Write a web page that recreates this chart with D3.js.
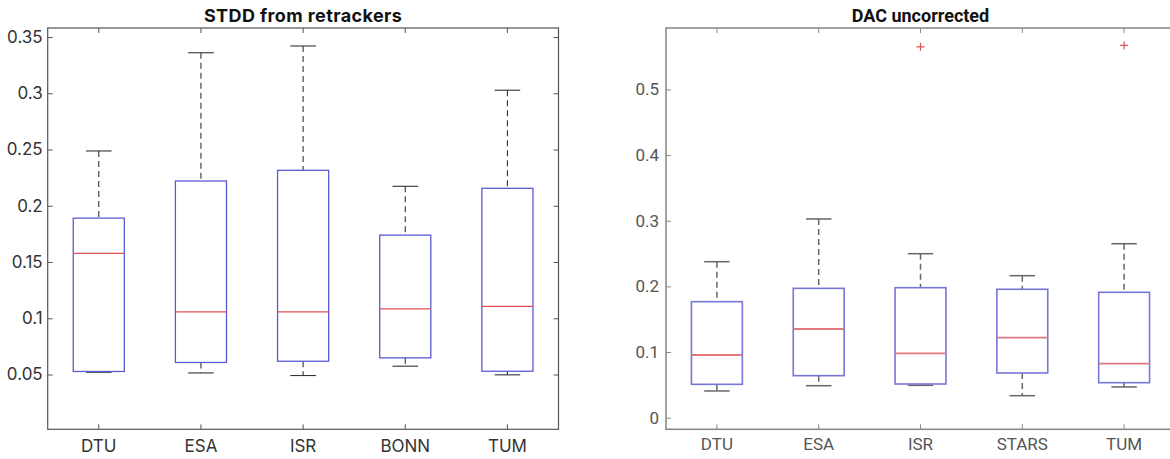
<!DOCTYPE html>
<html>
<head>
<meta charset="utf-8">
<script src="https://cdn.jsdelivr.net/npm/d3@7"></script>
<style>
  body { margin: 0; background: #fff; }
  svg { display: block; }
</style>
</head>
<body>
<svg id="chart" width="1170" height="459"></svg>
<script>
// left panel: STDD from retrackers
var leftCats = ["DTU", "ESA", "ISR", "BONN", "TUM"];
var leftLow = [0.052, 0.0514, 0.0491, 0.0574, 0.0497];
var leftQ1 = [0.0527, 0.0607, 0.0618, 0.0648, 0.0529];
var leftMed = [0.1577, 0.1057, 0.1057, 0.1084, 0.1105];
var leftQ3 = [0.189, 0.222, 0.2315, 0.1739, 0.2155];
var leftHigh = [0.2487, 0.336, 0.342, 0.2173, 0.3027];
var leftTicks = [0.05, 0.1, 0.15, 0.2, 0.25, 0.3, 0.35];

// right panel: DAC uncorrected
var rightCats = ["DTU", "ESA", "ISR", "STARS", "TUM"];
var rightLow = [0.0407, 0.0487, 0.0493, 0.0335, 0.0468];
var rightQ1 = [0.0508, 0.064, 0.0513, 0.0681, 0.0533];
var rightMed = [0.0955, 0.1351, 0.098, 0.1219, 0.0823];
var rightQ3 = [0.1767, 0.197, 0.198, 0.1956, 0.191];
var rightHigh = [0.2376, 0.3027, 0.2498, 0.2163, 0.265];
var rightOutliers = [[], [], [0.565], [], [0.567]];
var rightTicks = [0, 0.1, 0.2, 0.3, 0.4, 0.5];

var svg = d3.select("#chart");

function panel(opt) {
  var g = svg.append("g");
  var x = d3.scaleBand().domain(opt.cats).range([opt.x0, opt.x1]).padding(0);
  var y = d3.scaleLinear().domain(opt.yDomain).range([opt.y1, opt.y0]);
  var bw = x.bandwidth();
  var cx = function(c) { return x(c) + bw / 2; };

  // frame
  g.append("rect")
    .attr("x", opt.x0).attr("y", opt.y0)
    .attr("width", opt.x1 - opt.x0).attr("height", opt.y1 - opt.y0)
    .attr("fill", "none").attr("stroke", opt.axisColor).attr("stroke-width", opt.frameW);

  // axes with inward ticks
  var yAxis = g.append("g")
    .attr("transform", "translate(" + opt.x0 + ",0)")
    .call(d3.axisLeft(y).tickValues(opt.ticks).tickSize(-5).tickPadding(opt.yPad)
      .tickFormat(function(d) { return String(+d.toFixed(2)); }));
  var yAxisR = g.append("g")
    .attr("transform", "translate(" + opt.x1 + ",0)")
    .call(d3.axisRight(y).tickValues(opt.ticks).tickSize(-5).tickFormat(""));
  var xAxis = g.append("g")
    .attr("transform", "translate(0," + opt.y1 + ")")
    .call(d3.axisBottom(x).tickSize(-5).tickPadding(opt.xPad));
  var xAxisT = g.append("g")
    .attr("transform", "translate(0," + opt.y0 + ")")
    .call(d3.axisTop(x).tickSize(-5).tickFormat(""));
  [yAxis, yAxisR, xAxis, xAxisT].forEach(function(a) {
    a.select(".domain").remove();
    a.selectAll("line").attr("stroke", opt.axisColor).attr("stroke-width", 1);
    a.selectAll("text")
      .attr("font-family", opt.font).attr("font-size", opt.fontSize)
      .attr("fill", opt.textColor);
  });

  var idx = d3.range(opt.cats.length);

  // whiskers
  g.selectAll(".wu").data(idx).enter().append("line")
    .attr("x1", function(i) { return cx(opt.cats[i]); })
    .attr("x2", function(i) { return cx(opt.cats[i]); })
    .attr("y1", function(i) { return y(opt.high[i]); })
    .attr("y2", function(i) { return y(opt.q3[i]); })
    .attr("stroke", opt.whiskColor).attr("stroke-width", opt.whiskW)
    .attr("stroke-dasharray", opt.dash);
  g.selectAll(".wl").data(idx).enter().append("line")
    .attr("x1", function(i) { return cx(opt.cats[i]); })
    .attr("x2", function(i) { return cx(opt.cats[i]); })
    .attr("y1", function(i) { return y(opt.q1[i]); })
    .attr("y2", function(i) { return y(opt.low[i]); })
    .attr("stroke", opt.whiskColor).attr("stroke-width", opt.whiskW)
    .attr("stroke-dasharray", opt.dash);

  // caps
  [opt.high, opt.low].forEach(function(arr) {
    g.selectAll(null).data(idx).enter().append("line")
      .attr("x1", function(i) { return cx(opt.cats[i]) - bw * 0.125; })
      .attr("x2", function(i) { return cx(opt.cats[i]) + bw * 0.125; })
      .attr("y1", function(i) { return y(arr[i]); })
      .attr("y2", function(i) { return y(arr[i]); })
      .attr("stroke", opt.whiskColor).attr("stroke-width", opt.whiskW);
  });

  // boxes
  g.selectAll(".box").data(idx).enter().append("rect")
    .attr("x", function(i) { return cx(opt.cats[i]) - bw * 0.25; })
    .attr("width", bw * 0.5)
    .attr("y", function(i) { return y(opt.q3[i]); })
    .attr("height", function(i) { return y(opt.q1[i]) - y(opt.q3[i]); })
    .attr("fill", "none").attr("stroke", opt.boxColor).attr("stroke-width", opt.boxW);

  // medians
  g.selectAll(".med").data(idx).enter().append("line")
    .attr("x1", function(i) { return cx(opt.cats[i]) - bw * 0.25; })
    .attr("x2", function(i) { return cx(opt.cats[i]) + bw * 0.25; })
    .attr("y1", function(i) { return y(opt.med[i]); })
    .attr("y2", function(i) { return y(opt.med[i]); })
    .attr("stroke", opt.medColor).attr("stroke-width", opt.medW);

  // outliers
  if (opt.outliers) {
    var pts = [];
    opt.outliers.forEach(function(list, i) {
      list.forEach(function(v) { pts.push([opt.cats[i], v]); });
    });
    g.selectAll(".out").data(pts).enter().append("path")
      .attr("d", function(p) {
        var px = cx(p[0]), py = y(p[1]);
        return "M" + (px - 4) + "," + py + "H" + (px + 4) + "M" + px + "," + (py - 4) + "V" + (py + 4);
      })
      .attr("stroke", "#d9534f").attr("stroke-width", 1.2).attr("fill", "none");
  }

  // title
  g.append("text")
    .attr("x", (opt.x0 + opt.x1) / 2).attr("y", opt.titleY)
    .attr("text-anchor", "middle")
    .attr("font-family", opt.titleFont).attr("font-weight", "bold")
    .attr("font-size", opt.titleSize).attr("fill", "#111")
    .attr("letter-spacing", opt.titleSpacing || 0)
    .text(opt.title);
}

panel({
  cats: leftCats, low: leftLow, q1: leftQ1, med: leftMed, q3: leftQ3, high: leftHigh,
  ticks: leftTicks, yDomain: [0.0013, 0.358],
  x0: 47.7, x1: 558.5, y0: 28, y1: 429.3,
  axisColor: "#555", frameW: 1.2, textColor: "#333",
  font: "Inter, 'Noto Sans', sans-serif", fontSize: 17, yPad: 5, xPad: 11,
  whiskColor: "#333", whiskW: 1.1, dash: "6,4",
  boxColor: "#5a5ad6", boxW: 1.3, medColor: "#e0505a", medW: 1.3,
  title: "STDD from retrackers", titleY: 22, titleFont: "Inter, 'Noto Sans', sans-serif",
  titleSize: 18, titleSpacing: 0.4
});

panel({
  cats: rightCats, low: rightLow, q1: rightQ1, med: rightMed, q3: rightQ3, high: rightHigh,
  outliers: rightOutliers,
  ticks: rightTicks, yDomain: [-0.0177, 0.5936],
  x0: 666, x1: 1175, y0: 28, y1: 429.3,
  axisColor: "#8a8a8a", frameW: 1.6, textColor: "#555",
  font: "Roboto, sans-serif", fontSize: 17, yPad: 7, xPad: 9,
  whiskColor: "#666", whiskW: 1.5, dash: "6,4",
  boxColor: "#7676d8", boxW: 1.6, medColor: "#e07a80", medW: 1.8,
  title: "DAC uncorrected", titleY: 22, titleFont: "Roboto, sans-serif", titleSize: 18
});
</script>
</body>
</html>
